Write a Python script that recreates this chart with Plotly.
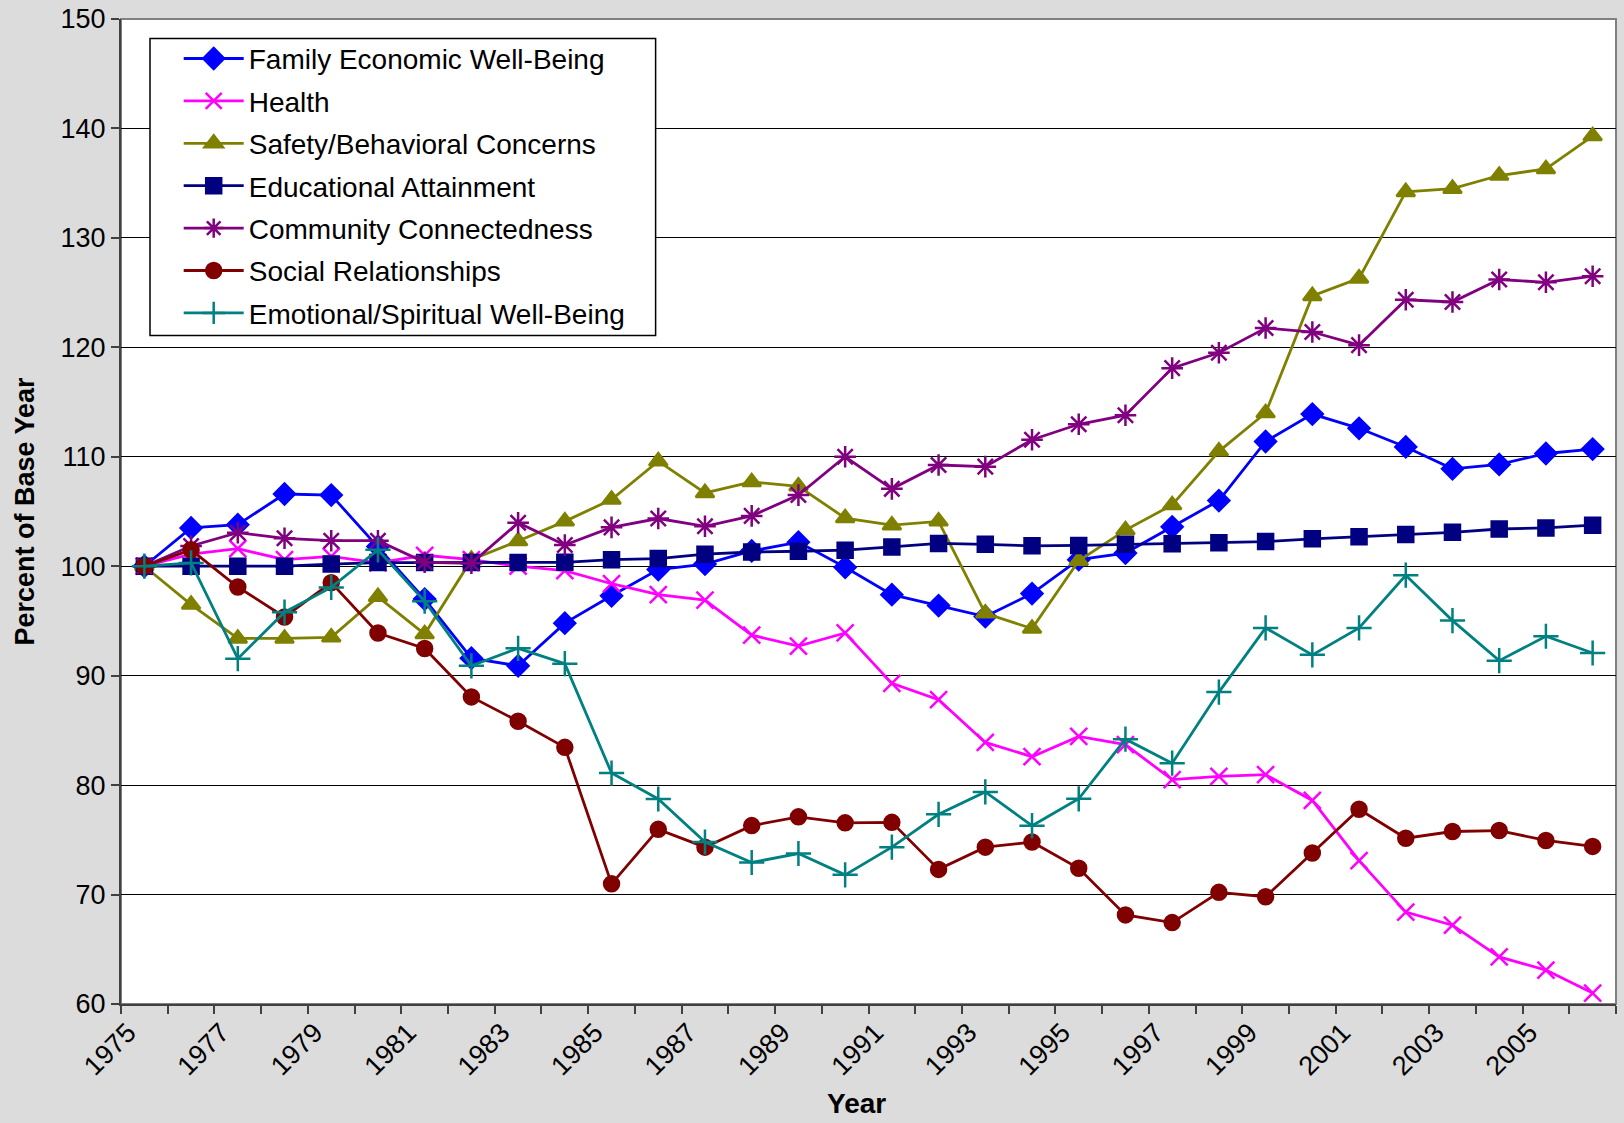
import plotly.graph_objects as go

years = list(range(1975, 2007))

family = [100, 103.5, 103.8, 106.6, 106.5, 101.8, 97.0, 91.6, 90.9, 94.8,
          97.3, 99.7, 100.2, 101.4, 102.2, 99.9, 97.4, 96.4, 95.4, 97.5,
          100.6, 101.2, 103.6, 106.0, 111.4, 113.9, 112.6, 110.9, 108.9, 109.3,
          110.3, 110.7]
health = [100, 101.1, 101.6, 100.6, 100.9, 100.3, 101.0, 100.6, 100.0, 99.6,
          98.4, 97.4, 96.9, 93.7, 92.7, 93.9, 89.3, 87.8, 83.9, 82.6,
          84.45, 83.7, 80.5, 80.8, 80.95, 78.6, 73.1, 68.4, 67.2, 64.3,
          63.1, 61.0]
safety = [100, 96.5, 93.4, 93.4, 93.5, 97.2, 93.8, 100.6, 102.3, 104.1,
          106.1, 109.6, 106.7, 107.7, 107.3, 104.4, 103.75, 104.1, 95.7, 94.3,
          100.5, 103.3, 105.6, 110.5, 114.0, 124.7, 126.3, 134.2, 134.5, 135.7,
          136.3, 139.3]
education = [100, 100, 100, 100, 100.2, 100.33, 100.33, 100.33, 100.33, 100.36,
             100.6, 100.7, 101.1, 101.3, 101.37, 101.47, 101.76, 102.08, 102.0, 101.86,
             101.9, 102.0, 102.05, 102.15, 102.25, 102.5, 102.7, 102.9, 103.1, 103.4,
             103.5, 103.75]
community = [100, 101.85, 103.06, 102.55, 102.33, 102.33, 100.36, 100.27, 103.97, 101.94,
             103.55, 104.36, 103.65, 104.6, 106.5, 110.0, 107.07, 109.25, 109.1, 111.56,
             112.97, 113.8, 118.1, 119.5, 121.76, 121.4, 120.2, 124.35, 124.14, 126.2,
             125.94, 126.5]
social = [100, 101.5, 98.1, 95.36, 98.5, 93.9, 92.48, 88.06, 85.84, 83.45,
          70.98, 75.96, 74.33, 76.3, 77.1, 76.55, 76.6, 72.3, 74.33, 74.8,
          72.4, 68.14, 67.44, 70.2, 69.8, 73.8, 77.8, 75.15, 75.76, 75.85,
          74.94, 74.4]
emotional = [100, 100.3, 91.55, 95.8, 98.06, 101.5, 96.8, 90.9, 92.5, 91.1,
             81.1, 78.73, 74.8, 72.93, 73.75, 71.8, 74.33, 77.33, 79.38, 76.29,
             78.75, 84.2, 82.0, 88.5, 94.36, 91.9, 94.36, 99.18, 95.03, 91.37,
             93.6, 92.07]

series_names = ["Family Economic Well-Being", "Health", "Safety/Behavioral Concerns",
                "Educational Attainment", "Community Connectedness",
                "Social Relationships", "Emotional/Spiritual Well-Being"]
series_values = [family, health, safety, education, community, social, emotional]
colors = ["#0000FF", "#FF00FF", "#808000", "#000080", "#800080", "#800000", "#008080"]
symbols = ["diamond", "x-thin-open", "triangle-up", "square", "asterisk-open",
           "circle", "cross-thin-open"]
sizes = [16, 17, 16, 15, 18, 15, 18]

label_years = list(range(1975, 2006, 2))

fig = go.Figure()
for i, (name, vals, c, s, sz) in enumerate(zip(series_names, series_values, colors, symbols, sizes)):
    fig.add_trace(go.Scatter(
        x=years, y=vals, name=name, mode="lines+markers", legendgroup=f"g{i}",
        line=dict(color=c, width=2.8),
        marker=dict(symbol=s, size=sz, color=c, line=dict(color=c, width=2.5)),
    ))

FONT = "Liberation Sans, Arial, sans-serif"
fig.update_layout(
    width=1624, height=1123,
    paper_bgcolor="#DCDCDC", plot_bgcolor="#FFFFFF",
    margin=dict(l=121, r=8, t=19, b=119),
    font=dict(family=FONT, color="#000000"),
    showlegend=True,
    legend=dict(
        x=0.0386, y=0.985, xanchor="left", yanchor="top",
        bgcolor="rgba(0,0,0,0)", borderwidth=0,
        font=dict(size=28, family=FONT),
        tracegroupgap=3, itemwidth=60,
    ),
)

fig.update_xaxes(
    range=[1974.5, 2006.5], automargin=False,
    tickmode="array", tickvals=[y - 0.35 for y in label_years],
    ticktext=[str(y) for y in label_years],
    tickangle=-45, ticks="", ticklen=0,
    tickfont=dict(size=27),
    showgrid=False, zeroline=False,
    showline=True, linecolor="#404040", linewidth=2, mirror=False,
    minor=dict(tickmode="linear", tick0=1974.5, dtick=1, ticks="outside",
               ticklen=8, tickcolor="#404040", tickwidth=1.5, showgrid=False),
)
fig.update_yaxes(
    range=[60, 150], dtick=10, tick0=60, automargin=False,
    ticks="outside", ticklen=8, tickcolor="#404040", tickwidth=1.5,
    tickfont=dict(size=27),
    showgrid=True, gridcolor="#000000", gridwidth=1,
    zeroline=False,
    showline=True, linecolor="#404040", linewidth=2, mirror=False,
    title=dict(text="<b>Percent of Base Year</b>", font=dict(size=27), standoff=18),
)

# x-axis title
fig.add_annotation(text="<b>Year</b>", xref="paper", yref="paper", x=0.492, y=-0.1015,
                   xanchor="center", yanchor="middle", showarrow=False,
                   font=dict(size=28, family=FONT))

# plot area border (top / right) in gray
fig.add_shape(type="rect", xref="paper", yref="paper", x0=0, y0=0, x1=1, y1=1,
              line=dict(color="#808080", width=2), layer="below")
# legend box
fig.add_shape(type="rect", xref="paper", yref="paper", x0=0.0194, y0=0.6787, x1=0.3576, y1=0.9802,
              line=dict(color="#000000", width=1.5), fillcolor="#FFFFFF", layer="above")

fig.write_html(
    "out.html",
    config={"displayModeBar": False},
    post_script="document.body.style.margin='0px';document.body.style.padding='0px';"
                "document.body.style.background='#DCDCDC';document.body.style.overflow='hidden';",
)
